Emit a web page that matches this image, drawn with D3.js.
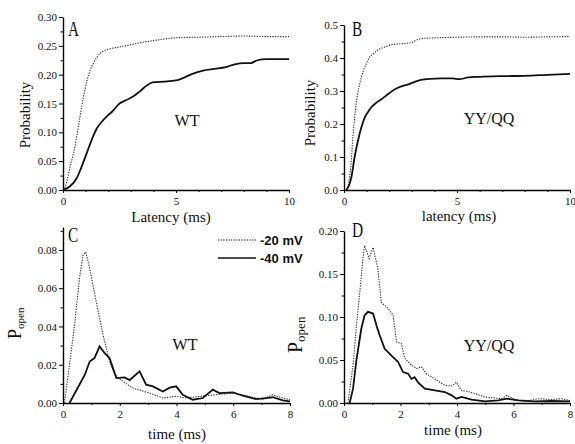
<!DOCTYPE html>
<html>
<head>
<meta charset="utf-8">
<script src="https://cdn.jsdelivr.net/npm/d3@7"></script>
<style>
  body { margin: 0; background: #fff; }
  svg text { font-family: "Liberation Serif", "Times New Roman", serif; fill: #111; }
  .legend text { font-family: "Liberation Sans", Arial, sans-serif; font-weight: bold; font-size: 13px; }
</style>
</head>
<body>
<svg id="fig" width="575" height="444"></svg>
<script>
// panel A - WT cumulative first latency
const aT20 = [0,0.1,0.2,0.3,0.5,0.7,0.9,1.05,1.2,1.35,1.5,1.65,1.8,2.0,2.5,3.0,3.5,4.0,4.5,5.0,6,7,8,9,10];
const aP20 = [0,0.005,0.02,0.038,0.07,0.115,0.16,0.188,0.207,0.22,0.23,0.237,0.241,0.244,0.248,0.252,0.256,0.259,0.262,0.264,0.265,0.266,0.267,0.266,0.266];
const aT40 = [0,0.3,0.6,0.8,1.05,1.3,1.5,1.75,1.95,2.2,2.5,2.8,3.1,3.4,3.7,4.0,4.5,5.0,5.3,5.7,6.2,6.7,7.2,7.6,8.0,8.3,8.6,9.0,9.5,10];
const aP40 = [0,0.006,0.02,0.038,0.064,0.09,0.107,0.12,0.128,0.137,0.15,0.156,0.162,0.171,0.181,0.187,0.188,0.19,0.194,0.201,0.207,0.21,0.213,0.218,0.22,0.22,0.225,0.227,0.227,0.227];

// panel B - YY/QQ cumulative first latency
const bT20 = [0.1,0.2,0.3,0.4,0.5,0.6,0.7,0.85,1.0,1.15,1.3,1.5,1.8,2.1,2.5,3.0,3.3,3.6,4,5,6,7,8,9,10];
const bP20 = [0,0.02,0.07,0.165,0.24,0.29,0.323,0.36,0.385,0.404,0.413,0.424,0.433,0.44,0.443,0.447,0.457,0.46,0.461,0.463,0.464,0.464,0.463,0.464,0.465];
const bT40 = [0.1,0.2,0.33,0.47,0.62,0.77,0.92,1.05,1.2,1.4,1.65,1.9,2.2,2.5,2.85,3.1,3.4,3.8,4.3,4.8,5.1,5.5,6.0,7.0,8,9,10];
const bP40 = [0,0.01,0.04,0.1,0.15,0.19,0.22,0.235,0.25,0.263,0.275,0.288,0.303,0.313,0.32,0.327,0.334,0.337,0.338,0.338,0.336,0.341,0.343,0.345,0.346,0.349,0.352];

// panel C - WT open probability
const cT20 = [0.05,0.23,0.4,0.58,0.7,0.8,0.94,1.17,1.41,1.64,1.82,2.11,2.46,3.05,3.52,3.99,4.34,4.81,5.4,5.99,6.3,6.69,7.04,7.39,7.75,8];
const cP20 = [0,0.02,0.04,0.065,0.077,0.079,0.0704,0.053,0.0357,0.0217,0.0148,0.0113,0.0078,0.0052,0.0026,0.0035,0.0026,0.0035,0.0043,0.0052,0.0043,0.003,0.002,0.0043,0.0026,0.0017];
const cT40 = [0.23,0.77,0.94,1.11,1.29,1.47,1.64,1.88,2.17,2.35,2.7,2.93,3.17,3.52,3.76,3.99,4.22,4.57,4.93,5.28,5.51,5.99,6.34,6.8,7.16,7.39,7.75,8];
const cP40 = [0,0.0148,0.0217,0.0235,0.0296,0.026,0.0235,0.013,0.0134,0.012,0.0165,0.0096,0.0087,0.006,0.008,0.0087,0.0043,0.0017,0.0026,0.007,0.0052,0.0056,0.0038,0.002,0.0026,0.003,0.0014,0.0009];

// panel D - YY/QQ open probability
const dT20 = [0.14,0.32,0.44,0.56,0.67,0.73,0.85,0.89,1.03,1.2,1.32,1.56,1.74,1.86,2.03,2.15,2.39,2.57,2.74,2.92,3.22,3.57,3.81,3.98,4.16,4.46,4.63,4.99,5.34,5.58,5.76,6.05,6.41,6.88,7.35,7.7,8];
const dP20 = [0,0.044,0.09,0.129,0.168,0.183,0.172,0.168,0.181,0.156,0.117,0.11,0.102,0.071,0.069,0.052,0.044,0.04,0.042,0.034,0.028,0.0205,0.0198,0.024,0.0147,0.0128,0.0109,0.007,0.0058,0.005,0.0089,0.0039,0.0019,0.005,0.0039,0.005,0.003];
const dT40 = [0.2,0.32,0.44,0.61,0.73,0.85,1.03,1.15,1.26,1.44,1.68,1.91,2.09,2.27,2.39,2.5,2.62,2.86,3.22,3.57,3.81,3.98,4.16,4.52,4.99,5.46,5.76,6.17,6.76,7.35,8];
const dP40 = [0,0.0167,0.05,0.086,0.102,0.106,0.104,0.09,0.079,0.063,0.055,0.048,0.036,0.034,0.028,0.03,0.024,0.0167,0.0147,0.0128,0.0089,0.005,0.007,0.0039,0.0019,0.0031,0.005,0.003,0.002,0.0023,0.002];

const legendLabels = ["-20 mV", "-40 mV"];

const svg = d3.select("#fig");
const serif = "Liberation Serif, Times New Roman, serif";

function panel(o) {
    const x = d3.scaleLinear().domain(o.xDom).range(o.xR);
    const y = d3.scaleLinear().domain(o.yDom).range(o.yR);
    const g = svg.append("g");

    // minor ticks first, then labelled ticks
    g.append("g").attr("transform", `translate(${o.xR[0]},0)`)
        .call(d3.axisLeft(y).tickValues(o.yMinor).tickSize(2.5).tickFormat(""))
        .call(a => a.select(".domain").remove());
    g.append("g").attr("transform", `translate(${o.xR[0]},0)`)
        .call(d3.axisLeft(y).tickValues(o.yTicks).tickSize(4).tickSizeOuter(0).tickPadding(2).tickFormat(d3.format(o.yFmt)))
        .attr("font-family", serif).attr("font-size", 11)
        .call(a => a.select(".domain").attr("stroke-width", 1.4));
    g.append("g").attr("transform", `translate(0,${o.yR[0]})`)
        .call(d3.axisBottom(x).tickValues(o.xMinor).tickSize(2).tickFormat(""))
        .call(a => a.select(".domain").remove());
    g.append("g").attr("transform", `translate(0,${o.yR[0]})`)
        .call(d3.axisBottom(x).tickValues(o.xTicks).tickSize(3).tickSizeOuter(0).tickPadding(4))
        .attr("font-family", serif).attr("font-size", 11)
        .call(a => a.select(".domain").attr("stroke-width", 1.4));

    const line = d3.line().x(d => x(d[0])).y(d => y(d[1])).curve(o.curve);
    g.append("path").datum(d3.zip(o.t20, o.p20))
        .attr("d", line).attr("fill", "none").attr("stroke", "#333")
        .attr("stroke-width", 1.1).attr("stroke-dasharray", "1.3,1.3");
    g.append("path").datum(d3.zip(o.t40, o.p40))
        .attr("d", line).attr("fill", "none").attr("stroke", "#111")
        .attr("stroke-width", 1.8);

    g.append("text").attr("transform", `translate(${o.letter[0]},${o.letter[1]}) scale(0.7,1)`)
        .attr("font-size", 22).text(o.name);
    g.append("text").attr("x", o.tag[0]).attr("y", o.tag[1])
        .attr("font-size", 16).attr("text-anchor", "middle").text(o.tagText);
    g.append("text").attr("x", o.xLab[0]).attr("y", o.xLab[1])
        .attr("font-size", 15).attr("text-anchor", "middle").text(o.xText);

    const yl = g.append("text").attr("transform", `translate(${o.yLab[0]},${o.yLab[1]}) rotate(-90)`);
    if (o.popen) {
        yl.attr("text-anchor", "start");
        yl.append("tspan").attr("font-size", o.popen[0]).text("P");
        yl.append("tspan").attr("font-size", o.popen[1]).attr("dy", 3).text("open");
    } else {
        yl.attr("text-anchor", "middle").attr("font-size", 15).text("Probability");
    }
    return g;
}

panel({name: "A", xDom: [0, 10], xR: [63, 289], yDom: [0, 0.30], yR: [190, 17],
    yTicks: [0, 0.05, 0.10, 0.15, 0.20, 0.25, 0.30], yMinor: d3.range(0.025, 0.30, 0.05), yFmt: ".2f",
    xTicks: [0, 5, 10], xMinor: [1, 2, 3, 4, 6, 7, 8, 9],
    t20: aT20, p20: aP20, t40: aT40, p40: aP40, curve: d3.curveMonotoneX,
    letter: [68, 36], tag: [187, 126], tagText: "WT", xLab: [171, 222], xText: "Latency (ms)", yLab: [30, 115]});

panel({name: "B", xDom: [0, 10], xR: [344, 570], yDom: [0, 0.5], yR: [190, 25],
    yTicks: [0, 0.1, 0.2, 0.3, 0.4, 0.5], yMinor: d3.range(0.05, 0.5, 0.1), yFmt: ".1f",
    xTicks: [0, 5, 10], xMinor: [1, 2, 3, 4, 6, 7, 8, 9],
    t20: bT20, p20: bP20, t40: bT40, p40: bP40, curve: d3.curveMonotoneX,
    letter: [352, 36], tag: [489, 124], tagText: "YY/QQ", xLab: [459, 221], xText: "latency (ms)", yLab: [315, 113]});

panel({name: "C", xDom: [0, 8], xR: [63, 290], yDom: [0, 0.092], yR: [403, 227],
    yTicks: [0, 0.02, 0.04, 0.06, 0.08], yMinor: [0.01, 0.03, 0.05, 0.07, 0.09], yFmt: ".2f",
    xTicks: [0, 2, 4, 6, 8], xMinor: [1, 3, 5, 7],
    t20: cT20, p20: cP20, t40: cT40, p40: cP40, curve: d3.curveLinear,
    letter: [68, 242], tag: [185, 350], tagText: "WT", xLab: [177, 439], xText: "time (ms)", yLab: [21, 339], popen: [18, 11]});

panel({name: "D", xDom: [0, 8], xR: [344, 570], yDom: [0, 0.2], yR: [403, 231],
    yTicks: [0, 0.05, 0.10, 0.15, 0.20], yMinor: [0.025, 0.075, 0.125, 0.175], yFmt: ".2f",
    xTicks: [0, 2, 4, 6, 8], xMinor: [1, 3, 5, 7],
    t20: dT20, p20: dP20, t40: dT40, p40: dP40, curve: d3.curveLinear,
    letter: [352, 237], tag: [489, 351], tagText: "YY/QQ", xLab: [453, 435], xText: "time (ms)", yLab: [302, 353], popen: [20, 13]});

// legend shared by C and D
const legend = svg.append("g").attr("class", "legend").attr("transform", "translate(218,240)");
legendLabels.forEach((lab, i) => {
    const row = legend.append("g").attr("transform", `translate(0,${i * 18})`);
    row.append("line").attr("x1", 0).attr("x2", 38).attr("stroke", "#111")
        .attr("stroke-width", i ? 1.6 : 1.1).attr("stroke-dasharray", i ? null : "1.3,1.3");
    row.append("text").attr("x", 42).attr("y", 5).text(lab);
});
</script>
</body>
</html>
